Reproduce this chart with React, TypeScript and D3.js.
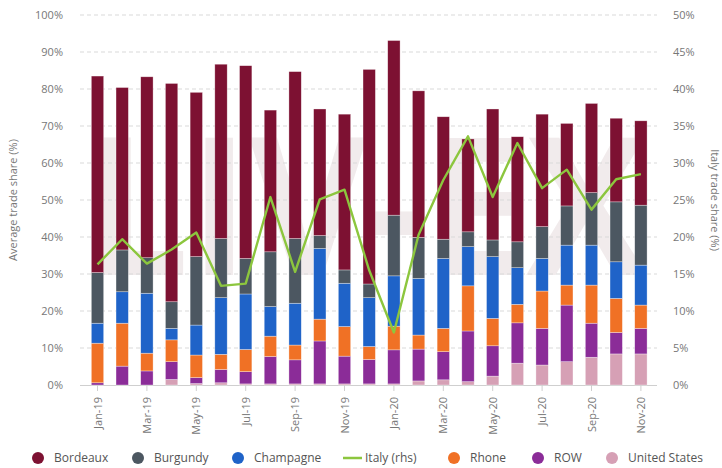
import React from "react";
import * as d3 from "d3";

const months = ["Jan-19","Feb-19","Mar-19","Apr-19","May-19","Jun-19","Jul-19","Aug-19","Sep-19","Oct-19","Nov-19","Dec-19","Jan-20","Feb-20","Mar-20","Apr-20","May-20","Jun-20","Jul-20","Aug-20","Sep-20","Oct-20","Nov-20"];

const unitedStates = [0, 0, 0, 1.5, 0.4, 0.6, 0.3, 0.3, 0.3, 0.3, 0.3, 0.3, 0.3, 1.1, 1.4, 0.9, 2.4, 5.9, 5.4, 6.3, 7.5, 8.4, 8.4];
const row = [0.6, 5.1, 3.8, 4.8, 1.6, 3.6, 3.3, 7.4, 6.5, 11.6, 7.5, 6.6, 9.2, 8.6, 7.6, 13.7, 8.2, 10.9, 9.9, 15.3, 9.2, 5.8, 6.9];
const rhone = [10.7, 11.6, 4.8, 5.9, 6.1, 4.1, 6.0, 5.5, 4.0, 5.9, 8.0, 3.5, 6.4, 3.8, 6.3, 12.2, 7.4, 5.0, 10.1, 5.4, 10.3, 9.2, 6.3];
const champagne = [5.4, 8.5, 16.2, 3.1, 8.1, 15.3, 15.0, 8.0, 11.3, 19.1, 11.7, 13.2, 13.6, 15.3, 18.9, 10.6, 16.7, 9.9, 8.8, 10.8, 10.8, 9.9, 10.8];
const burgundy = [13.7, 11.3, 9.6, 7.2, 18.5, 16.0, 9.6, 14.8, 17.5, 3.5, 3.6, 3.7, 16.4, 11.1, 5.2, 4.0, 4.5, 7.0, 8.6, 10.6, 14.2, 16.2, 16.2];
const bordeaux = [53.1, 43.9, 48.9, 59.0, 44.4, 47.1, 52.1, 38.3, 45.1, 34.2, 42.1, 58.0, 47.2, 39.6, 33.1, 25.1, 35.4, 28.4, 30.4, 22.3, 24.1, 22.6, 22.8];
const italy = [16.3, 19.7, 16.4, 18.3, 20.6, 13.4, 13.7, 25.4, 15.3, 25.1, 26.4, 15.5, 7.1, 20.3, 27.7, 33.6, 25.4, 32.7, 26.6, 29.1, 23.7, 27.8, 28.5];

const leftTicks = [0, 10, 20, 30, 40, 50, 60, 70, 80, 90, 100];
const rightTicks = [0, 5, 10, 15, 20, 25, 30, 35, 40, 45, 50];

const stackKeys = ["United States", "ROW", "Rhone", "Champagne", "Burgundy", "Bordeaux"];
const seriesValues: Record<string, number[]> = {
  "United States": unitedStates,
  ROW: row,
  Rhone: rhone,
  Champagne: champagne,
  Burgundy: burgundy,
  Bordeaux: bordeaux,
};
const colors: Record<string, string> = {
  Bordeaux: "#7d1132",
  Burgundy: "#4c5761",
  Champagne: "#1f63c8",
  "Italy (rhs)": "#8cc63e",
  Rhone: "#f07125",
  ROW: "#8b2c98",
  "United States": "#d6a0b5",
};
const legendItems = [
  { name: "Bordeaux", x: 38 },
  { name: "Burgundy", x: 138 },
  { name: "Champagne", x: 238 },
  { name: "Italy (rhs)", x: 343 },
  { name: "Rhone", x: 454 },
  { name: "ROW", x: 538 },
  { name: "United States", x: 612 },
];

const W = 722;
const H = 468;
const plotLeft = 80;
const plotRight = 657;
const yTop = 15;
const yBottom = 385;
const font = "'Open Sans', 'Noto Sans', sans-serif";

export default function App() {
  const x = d3
    .scaleBand<string>()
    .domain(months)
    .range([85.15, 653.25])
    .paddingInner(0.5)
    .paddingOuter(0.25);
  const yL = d3.scaleLinear().domain([0, 100]).range([yBottom, yTop]);
  const yR = d3.scaleLinear().domain([0, 50]).range([yBottom, yTop]);

  const table = months.map((m, i) => {
    const o: Record<string, number | string> = { month: m };
    stackKeys.forEach((k) => (o[k] = seriesValues[k][i]));
    return o;
  });
  const stacked = d3.stack<Record<string, number | string>>().keys(stackKeys)(table as any);

  const line = d3
    .line<number>()
    .x((_, i) => (x(months[i]) as number) + x.bandwidth() / 2)
    .y((d) => yR(d));

  return (
    <svg width={W} height={H} style={{ position: "absolute", left: 0, top: 0, background: "#fff" }} fontFamily={font}>
      {/* watermark */}
      <g transform="translate(87,275) scale(1,1.12)">
        <text
          x={0}
          y={0}
          fontSize={172}
          fontWeight={700}
          fill="#f1ebec"
          textLength={560}
          lengthAdjust="spacingAndGlyphs"
        >
          LIV-EX
        </text>
      </g>

      {/* gridlines */}
      {leftTicks.map((t) =>
        t === 0 ? null : (
          <line
            key={t}
            x1={plotLeft}
            x2={plotRight}
            y1={yL(t)}
            y2={yL(t)}
            stroke="#d9d9d9"
            strokeWidth={1}
            strokeDasharray="4 3"
          />
        )
      )}
      <line x1={plotLeft} x2={plotRight} y1={yBottom + 0.5} y2={yBottom + 0.5} stroke="#cfcfcf" />

      {/* left axis labels */}
      {leftTicks.map((t) => (
        <text key={t} x={63} y={yL(t) + 4} textAnchor="end" fontSize={11} fill="#777">
          {t}%
        </text>
      ))}
      {/* right axis labels */}
      {rightTicks.map((t) => (
        <text key={t} x={673} y={yR(t) + 4} textAnchor="start" fontSize={11} fill="#777">
          {t}%
        </text>
      ))}

      <text
        transform={`translate(17,${(yTop + yBottom) / 2}) rotate(-90)`}
        textAnchor="middle"
        fontSize={11}
        fill="#777"
      >
        Average trade share (%)
      </text>
      <text
        transform={`translate(711,${(yTop + yBottom) / 2}) rotate(90)`}
        textAnchor="middle"
        fontSize={11}
        fill="#777"
      >
        Italy trade share (%)
      </text>

      {/* stacked bars */}
      {stacked.map((s) => (
        <g key={s.key} fill={colors[s.key]}>
          {s.map((d, i) =>
            d[1] - d[0] <= 0 ? null : (
              <rect
                key={i}
                x={x(months[i])}
                width={x.bandwidth()}
                y={yL(d[1])}
                height={yL(d[0]) - yL(d[1])}
                stroke="#fff"
                strokeOpacity={0.55}
                strokeWidth={0.6}
              />
            )
          )}
        </g>
      ))}

      {/* Italy line */}
      <path d={line(italy) || ""} fill="none" stroke={colors["Italy (rhs)"]} strokeWidth={2.4} strokeLinejoin="round" />

      {/* x axis ticks and labels */}
      {months.map((m, i) =>
        i % 2 === 0 ? (
          <g key={m} transform={`translate(${(x(m) as number) + x.bandwidth() / 2},0)`}>
            <line y1={yBottom} y2={yBottom + 6} stroke="#cfcfcf" />
            <text
              transform={`translate(4,${yBottom + 12}) rotate(-90)`}
              textAnchor="end"
              fontSize={11}
              fill="#777"
            >
              {m}
            </text>
          </g>
        ) : null
      )}

      {/* legend */}
      {legendItems.map((l) => (
        <g key={l.name}>
          {l.name === "Italy (rhs)" ? (
            <line x1={l.x} x2={l.x + 19} y1={458} y2={458} stroke={colors[l.name]} strokeWidth={2.5} />
          ) : (
            <circle cx={l.x} cy={458} r={6} fill={colors[l.name]} />
          )}
          <text
            x={l.name === "Italy (rhs)" ? l.x + 22 : l.x + 16}
            y={462}
            fontSize={12}
            fill="#555"
          >
            {l.name}
          </text>
        </g>
      ))}
    </svg>
  );
}
